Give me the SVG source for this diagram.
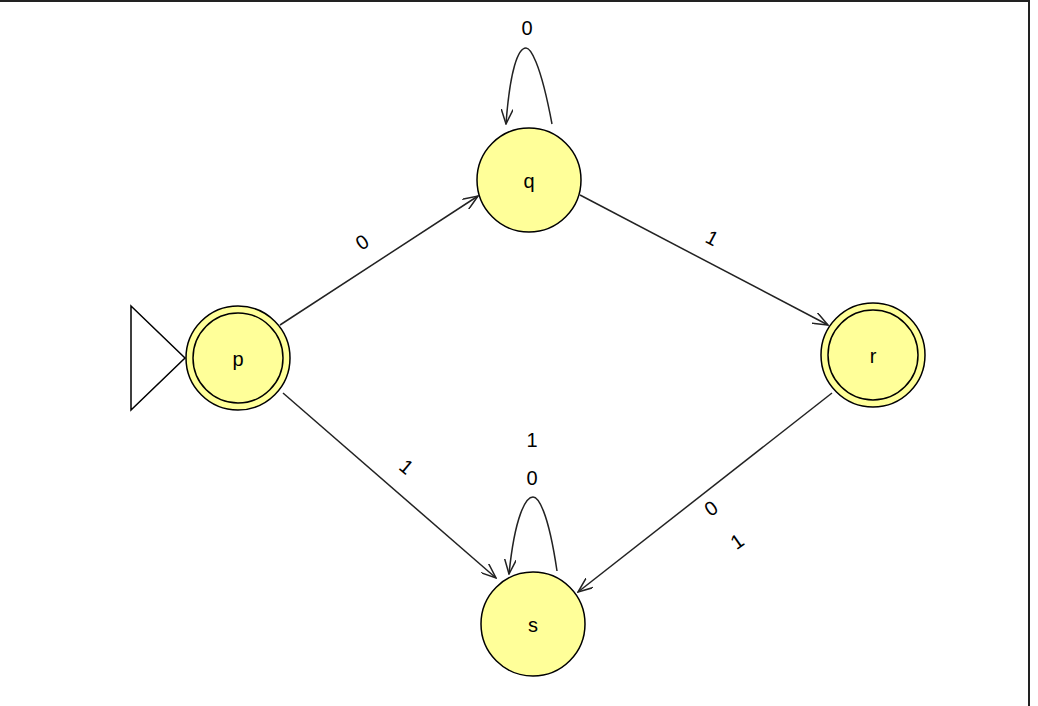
<svg xmlns="http://www.w3.org/2000/svg" width="1038" height="706" viewBox="0 0 1038 706">
<style>
.st{fill:#ffff99;stroke:#000;stroke-width:1.5}
.e{fill:none;stroke:#222;stroke-width:1.5}
text{font-family:"Liberation Sans",Arial,sans-serif;font-size:20px;fill:#000;text-anchor:middle}
</style>
<defs>
<marker id="a" viewBox="0 0 16 12" refX="15" refY="6" markerWidth="16" markerHeight="12" markerUnits="userSpaceOnUse" orient="auto">
<path d="M0,0 L15,6 L0,12" fill="none" stroke="#222" stroke-width="1.5"/>
</marker>
</defs>
<rect width="1038" height="706" fill="#fff"/>
<line x1="0" y1="1" x2="1029" y2="1" stroke="#222" stroke-width="2"/>
<line x1="1029" y1="0" x2="1029" y2="706" stroke="#222" stroke-width="2"/>
<g id="connectors">
<path class="e" d="M280,325 L478,196" marker-end="url(#a)"/>
<path class="e" d="M580,195 L828,325" marker-end="url(#a)"/>
<path class="e" d="M283,393 L496,578" marker-end="url(#a)"/>
<path class="e" d="M832,393 L578,592" marker-end="url(#a)"/>
<path class="e" d="M552,124 C540,60 530,48 526,48 C518,48 510,70 506,124" marker-end="url(#a)"/>
<path class="e" d="M557,571 C548,510 538,497 533,497 C526,497 515,515 509,574" marker-end="url(#a)"/>
<text transform="translate(366,248) rotate(-33)">0</text>
<text transform="translate(709,244) rotate(28)">1</text>
<text transform="translate(402,472) rotate(40)">1</text>
<text transform="translate(715,514) rotate(-35)">0</text>
<text transform="translate(741,547) rotate(-35)">1</text>
<text x="527" y="35">0</text>
<text x="532" y="485">0</text>
<text x="532" y="447">1</text>
</g>
<g id="initial"><path d="M131,306 L185,358 L131,410 Z" fill="none" stroke="#000" stroke-width="1.5"/></g>
<g id="p"><circle class="st" cx="238" cy="358" r="52"/><circle class="st" cx="238" cy="358" r="45"/><text x="238" y="366">p</text></g>
<g id="q"><circle class="st" cx="529" cy="180" r="52"/><text x="529" y="188">q</text></g>
<g id="r"><circle class="st" cx="873" cy="355" r="52"/><circle class="st" cx="873" cy="355" r="45"/><text x="873" y="363">r</text></g>
<g id="s"><circle class="st" cx="533" cy="624" r="52"/><text x="533" y="632">s</text></g>
</svg>
